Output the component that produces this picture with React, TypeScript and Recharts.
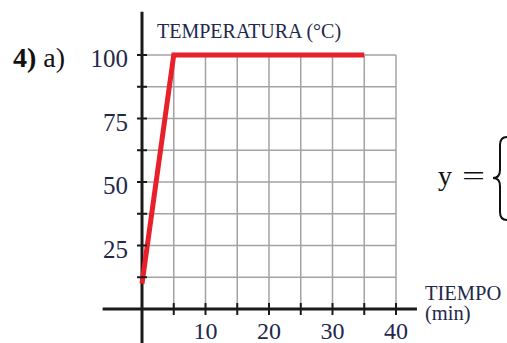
import { CartesianGrid, Line, LineChart, ReferenceLine, XAxis, YAxis } from "recharts";

// heating curve: minutes vs °C
const minutes = [0, 5, 35];
const temperatures = [10, 100, 100];

const xTicks = [0, 5, 10, 15, 20, 25, 30, 35, 40];
const yTicks = [0, 12.5, 25, 37.5, 50, 62.5, 75, 87.5, 100];
const xLabels = [10, 20, 30, 40];
const yLabels = [25, 50, 75, 100];

// how far the axis arrows run past the grid
const xAxisSpan = [-6.2, 43.3];
const yAxisSpan = [-15, 117];

const data = minutes.map((t, i) => ({ t, temp: temperatures[i] }));

const INK = "#23284a";
const SERIF = "'Liberation Serif', 'DejaVu Serif', serif";

function XTick({ x, y, payload }: { x?: number; y?: number; payload?: { value: number } }) {
  const v = payload?.value ?? 0;
  return (
    <g>
      {v > 0 && <line x1={x} x2={x} y1={(y ?? 0) - 6} y2={(y ?? 0) + 6} stroke="#1a1a1a" strokeWidth={2} />}
      {xLabels.includes(v) && (
        <text x={x} y={(y ?? 0) + 30} textAnchor="middle" fontSize={24} fill={INK} fontFamily={SERIF}>
          {v}
        </text>
      )}
    </g>
  );
}

function YTick({ x, y, payload }: { x?: number; y?: number; payload?: { value: number } }) {
  const v = payload?.value ?? 0;
  return (
    <g>
      {v > 0 && <line x1={(x ?? 0) - 5} x2={(x ?? 0) + 5} y1={y} y2={y} stroke="#1a1a1a" strokeWidth={2} />}
      {yLabels.includes(v) && (
        <text x={(x ?? 0) - 14} y={(y ?? 0) + 12} textAnchor="end" fontSize={25} fill={INK} fontFamily={SERIF}>
          {v}
        </text>
      )}
    </g>
  );
}

export default function App() {
  return (
    <div style={{ position: "absolute", left: 0, top: 0, width: 507, height: 343, background: "#fff", fontFamily: SERIF }}>
      <LineChart width={507} height={343} data={data} margin={{ top: 55, right: 111, left: 0, bottom: 0 }}>
        <CartesianGrid stroke="#a3a3a3" strokeWidth={1.5} strokeDasharray="" />
        <XAxis
          type="number"
          dataKey="t"
          domain={[0, 40]}
          ticks={xTicks}
          interval={0}
          height={34}
          axisLine={false}
          tickLine={false}
          tickSize={0}
          tickMargin={0}
          tick={<XTick />}
        />
        <YAxis
          type="number"
          domain={[0, 100]}
          ticks={yTicks}
          interval={0}
          width={142}
          axisLine={false}
          tickLine={false}
          tickSize={0}
          tickMargin={0}
          tick={<YTick />}
        />
        <ReferenceLine
          segment={[{ x: xAxisSpan[0], y: 0 }, { x: xAxisSpan[1], y: 0 }]}
          ifOverflow="visible"
          stroke="#1a1a1a"
          strokeWidth={3}
        />
        <ReferenceLine
          segment={[{ x: 0, y: yAxisSpan[0] }, { x: 0, y: yAxisSpan[1] }]}
          ifOverflow="visible"
          stroke="#1a1a1a"
          strokeWidth={3}
        />
        <Line
          type="linear"
          dataKey="temp"
          stroke="#e8202a"
          strokeWidth={5}
          strokeLinejoin="miter"
          dot={false}
          activeDot={false}
          isAnimationActive={false}
        />
      </LineChart>
      <svg width={507} height={343} style={{ position: "absolute", left: 0, top: 0, pointerEvents: "none" }}>
        <text x={13} y={67} fontSize={28} fill="#111" fontFamily={SERIF}>
          <tspan fontWeight="bold">4)</tspan> a)
        </text>
        <text x={157} y={38} fontSize={20} fill={INK} fontFamily={SERIF}>
          TEMPERATURA (°C)
        </text>
        <text x={425} y={300} fontSize={20.5} fill={INK} fontFamily={SERIF}>
          TIEMPO
        </text>
        <text x={425} y={320} fontSize={20.5} fill={INK} fontFamily={SERIF}>
          (min)
        </text>
        <text x={438} y={185} fontSize={28} fill="#111" fontFamily={SERIF}>
          y
        </text>
        <text x={462} y={185} fontSize={28} fill="#111" fontFamily={SERIF} textLength={23} lengthAdjust="spacingAndGlyphs">
          =
        </text>
        <path
          d="M507 137 Q500 137 500 145 L500 170 Q500 178 493 178 Q500 178 500 186 L500 212 Q500 220 507 220"
          fill="none"
          stroke="#111"
          strokeWidth={2}
        />
      </svg>
    </div>
  );
}
